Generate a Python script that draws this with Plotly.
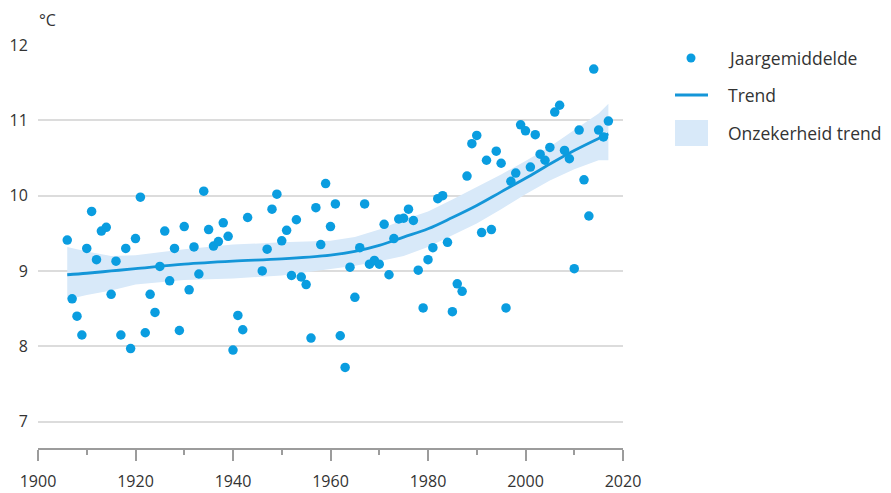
import plotly.graph_objects as go

# ---- data ----
years = list(range(1906, 1944)) + list(range(1946, 2018))
jaargemiddelde = [
    9.41, 8.63, 8.40, 8.15, 9.30, 9.79, 9.15, 9.53, 9.58, 8.69,   # 1906-1915
    9.13, 8.15, 9.30, 7.97, 9.43, 9.98, 8.18, 8.69, 8.45, 9.06,   # 1916-1925
    9.53, 8.87, 9.30, 8.21, 9.59, 8.75, 9.32, 8.96, 10.06, 9.55,  # 1926-1935
    9.33, 9.39, 9.64, 9.46, 7.95, 8.41, 8.22, 9.71,               # 1936-1943
    9.00, 9.29, 9.82, 10.02, 9.40, 9.54, 8.94, 9.68, 8.92, 8.82,  # 1946-1955
    8.11, 9.84, 9.35, 10.16, 9.59, 9.89, 8.14, 7.72, 9.05, 8.65,  # 1956-1965
    9.31, 9.89, 9.09, 9.14, 9.09, 9.62, 8.95, 9.43, 9.69, 9.70,   # 1966-1975
    9.82, 9.67, 9.01, 8.51, 9.15, 9.31, 9.96, 10.00, 9.38, 8.46,  # 1976-1985
    8.83, 8.73, 10.26, 10.69, 10.80, 9.51, 10.47, 9.55, 10.59, 10.43,  # 1986-1995
    8.51, 10.19, 10.30, 10.94, 10.86, 10.38, 10.81, 10.55, 10.47, 10.64,  # 1996-2005
    11.11, 11.20, 10.60, 10.49, 9.03, 10.87, 10.21, 9.73, 11.68, 10.87,  # 2006-2015
    10.78, 10.99,                                                  # 2016-2017
]

trend_years = [1906, 1910, 1915, 1920, 1930, 1940, 1950, 1960, 1965, 1970,
               1975, 1980, 1985, 1990, 1995, 2000, 2005, 2010, 2015, 2017]
trend = [8.95, 8.97, 9.00, 9.03, 9.09, 9.13, 9.16, 9.21, 9.26, 9.34,
         9.45, 9.56, 9.71, 9.87, 10.05, 10.23, 10.42, 10.60, 10.76, 10.82]
trend_lower = [8.62, 8.68, 8.74, 8.82, 8.88, 8.90, 8.94, 9.02, 9.07, 9.13,
               9.20, 9.32, 9.47, 9.63, 9.82, 10.02, 10.20, 10.35, 10.47, 10.47]
trend_upper = [9.32, 9.26, 9.20, 9.21, 9.29, 9.35, 9.38, 9.40, 9.45, 9.55,
               9.68, 9.79, 9.95, 10.11, 10.28, 10.46, 10.65, 10.87, 11.09, 11.22]

legend_labels = ["Jaargemiddelde", "Trend", "Onzekerheid trend"]
x_ticks = [1900, 1920, 1940, 1960, 1980, 2000, 2020]
y_ticks = [7, 8, 9, 10, 11, 12]

# ---- styling ----
DOT = "#0a9de0"
LINE = "#1496d8"
BAND = "#d8e9f9"
GRID = "#dcdcdc"
AXIS = "#9c9c9c"
TEXT = "#333333"
FONT = "Open Sans"

W, H = 891, 493
ML, MR, MT, MB = 38, 268, 45, 45

fig = go.Figure()

fig.add_trace(go.Scatter(x=trend_years, y=trend_lower, mode="lines",
                         line=dict(width=0, color=BAND), showlegend=False,
                         hoverinfo="skip"))
fig.add_trace(go.Scatter(x=trend_years, y=trend_upper, mode="lines",
                         line=dict(width=0, color=BAND), fill="tonexty",
                         fillcolor=BAND, showlegend=False,
                         name=legend_labels[2]))
fig.add_trace(go.Scatter(x=trend_years, y=trend, mode="lines",
                         line=dict(color=LINE, width=2.8, shape="spline"),
                         showlegend=False, name=legend_labels[1]))
fig.add_trace(go.Scatter(x=years, y=jaargemiddelde, mode="markers",
                         marker=dict(color=DOT, size=9.5, line=dict(width=0)),
                         showlegend=False, name=legend_labels[0]))

pw = W - ML - MR
ph = H - MT - MB


def px(xp):
    return (xp - ML) / pw


def py(yp):
    return (H - MB - yp) / ph


# manual legend
shapes = []
shapes.append(dict(type="circle", xref="paper", yref="paper",
                   x0=px(686.5), x1=px(695.5), y0=py(62.5), y1=py(53.5),
                   fillcolor=DOT, line=dict(width=0)))
shapes.append(dict(type="line", xref="paper", yref="paper",
                   x0=px(675), x1=px(708), y0=py(95), y1=py(95),
                   line=dict(color=LINE, width=3)))
shapes.append(dict(type="rect", xref="paper", yref="paper",
                   x0=px(675), x1=px(708), y0=py(146), y1=py(120),
                   fillcolor=BAND, line=dict(width=0)))

annotations = []
for lab, yc in zip(legend_labels, [58, 95, 133]):
    annotations.append(dict(text=lab, xref="paper", yref="paper",
                            x=px(726), y=py(yc), xanchor="left", yanchor="middle",
                            showarrow=False, font=dict(family=FONT, size=17.5, color=TEXT)))
annotations.append(dict(text="°C", xref="paper", yref="paper",
                        x=px(37), y=py(20), xanchor="left", yanchor="middle",
                        showarrow=False, font=dict(family=FONT, size=16, color=TEXT)))

fig.update_layout(
    width=W, height=H,
    margin=dict(l=ML, r=MR, t=MT, b=MB, pad=0, autoexpand=False),
    paper_bgcolor="white", plot_bgcolor="white",
    font=dict(family=FONT, size=16, color=TEXT),
    showlegend=False,
    shapes=shapes, annotations=annotations,
    xaxis=dict(range=[1900, 2020], tickvals=x_ticks, showgrid=False, zeroline=False,
               showline=True, linecolor=AXIS, linewidth=1.5, automargin=False,
               ticks="outside", ticklen=11, tickwidth=1.5, tickcolor=AXIS,
               ticklabelstandoff=7,
               minor=dict(dtick=10, tick0=1900, ticks="outside", ticklen=5,
                          tickwidth=1.5, tickcolor=AXIS, showgrid=False),
               tickfont=dict(family=FONT, size=16, color=TEXT)),
    yaxis=dict(range=[6.65, 12.0], tickvals=y_ticks, showgrid=True, gridcolor=GRID,
               gridwidth=1.5, zeroline=False, showline=False, automargin=False,
               ticks="outside", ticklen=6, tickcolor="rgba(0,0,0,0)",
               tickfont=dict(family=FONT, size=16, color=TEXT)),
)

fig.write_html("out.html", config={"displayModeBar": False},
               post_script="document.body.style.margin='0px';document.body.style.padding='0px';")
